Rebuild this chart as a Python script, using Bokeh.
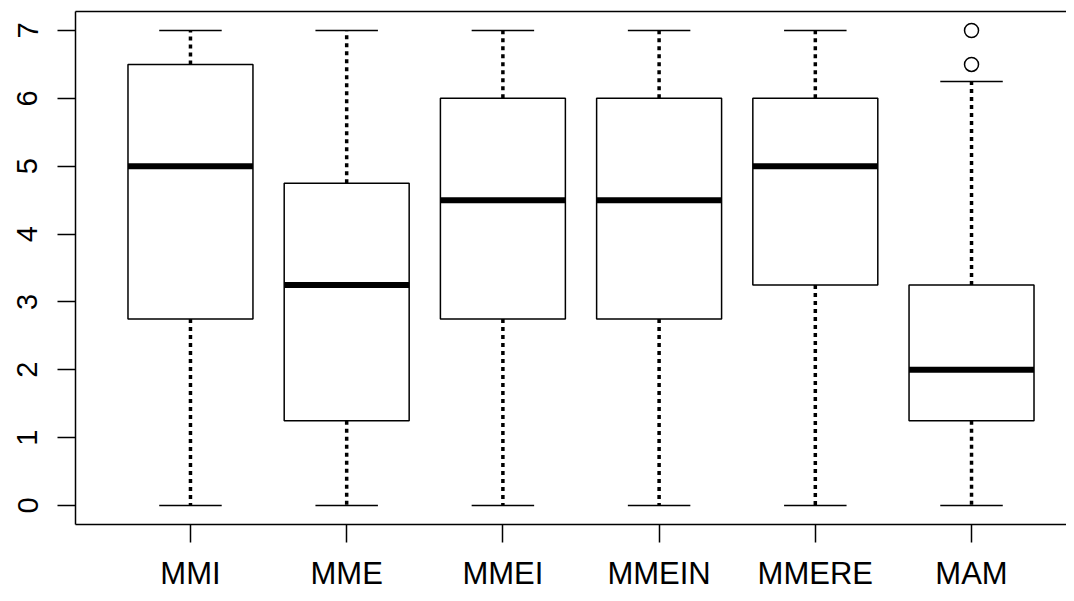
import numpy as np
from bokeh.plotting import figure
from bokeh.models import LinearAxis, FixedTicker, Range1d
from bokeh.embed import file_html
from bokeh.resources import INLINE

# ---- data ----
categories = ["MMI", "MME", "MMEI", "MMEIN", "MMERE", "MAM"]
whisker_low = [0, 0, 0, 0, 0, 0]
q1 = [2.75, 1.25, 2.75, 2.75, 3.25, 1.25]
median = [5.0, 3.25, 4.5, 4.5, 5.0, 2.0]
q3 = [6.5, 4.75, 6.0, 6.0, 6.0, 3.25]
whisker_high = [7, 7, 7, 7, 7, 6.25]
outlier_cat = ["MAM", "MAM"]
outlier_val = [6.5, 7.0]
y_ticks = [0, 1, 2, 3, 4, 5, 6, 7]

pos = np.arange(1, len(categories) + 1)
cat_pos = {c: i + 1 for i, c in enumerate(categories)}
box_w = 0.8
cap_w = 0.4

FONT = "Liberation Sans"

p = figure(width=1066, height=593, output_backend="svg", toolbar_location=None,
           x_range=Range1d(0.264, 6.608), y_range=Range1d(-0.28, 7.28),
           x_axis_location=None, y_axis_location=None,
           min_border_left=75, min_border_right=0, min_border_top=11, min_border_bottom=69)
p.outline_line_color = None
p.grid.visible = False
p.background_fill_color = "white"
p.border_fill_color = "white"

# whiskers (dashed)
p.segment(x0=pos, y0=q3, x1=pos, y1=whisker_high, line_color="black",
          line_width=3.5, line_dash="4 4")
p.segment(x0=pos, y0=q1, x1=pos, y1=whisker_low, line_color="black",
          line_width=3.5, line_dash="4 4")
# caps
p.segment(x0=pos - cap_w / 2, y0=whisker_high, x1=pos + cap_w / 2, y1=whisker_high,
          line_color="black", line_width=1.5)
p.segment(x0=pos - cap_w / 2, y0=whisker_low, x1=pos + cap_w / 2, y1=whisker_low,
          line_color="black", line_width=1.5)
# boxes
p.vbar(x=pos, width=box_w, bottom=q1, top=q3, fill_color="white",
       line_color="black", line_width=1.5)
# medians
p.segment(x0=pos - box_w / 2, y0=median, x1=pos + box_w / 2, y1=median,
          line_color="black", line_width=6)
# outliers
p.scatter(x=[cat_pos[c] for c in outlier_cat], y=outlier_val, marker="circle",
          size=14, fill_color="white", line_color="black", line_width=1.5)

# axes
xa = LinearAxis(ticker=FixedTicker(ticks=list(pos)),
                major_label_overrides={int(i): c for i, c in zip(pos, categories)})
xa.major_tick_out = 18
xa.major_tick_in = 0
xa.minor_tick_line_color = None
xa.axis_line_width = 1.5
xa.major_tick_line_width = 1.5
xa.major_label_text_font = FONT
xa.major_label_text_font_size = "31px"
xa.major_label_text_color = "black"
xa.major_label_standoff = 13
p.add_layout(xa, "below")

ya = LinearAxis(ticker=FixedTicker(ticks=y_ticks))
ya.major_tick_out = 18
ya.major_tick_in = 0
ya.minor_tick_line_color = None
ya.axis_line_width = 1.5
ya.major_tick_line_width = 1.5
ya.major_label_orientation = "vertical"
ya.major_label_text_font = FONT
ya.major_label_text_font_size = "29px"
ya.major_label_text_color = "black"
ya.major_label_standoff = 20
p.add_layout(ya, "left")

top = LinearAxis(ticker=FixedTicker(ticks=[]))
top.major_tick_out = 0
top.major_tick_in = 0
top.minor_tick_line_color = None
top.major_label_text_font_size = "0px"
top.axis_line_width = 1.5
p.add_layout(top, "above")

open("out.html", "w").write(file_html(p, INLINE))
